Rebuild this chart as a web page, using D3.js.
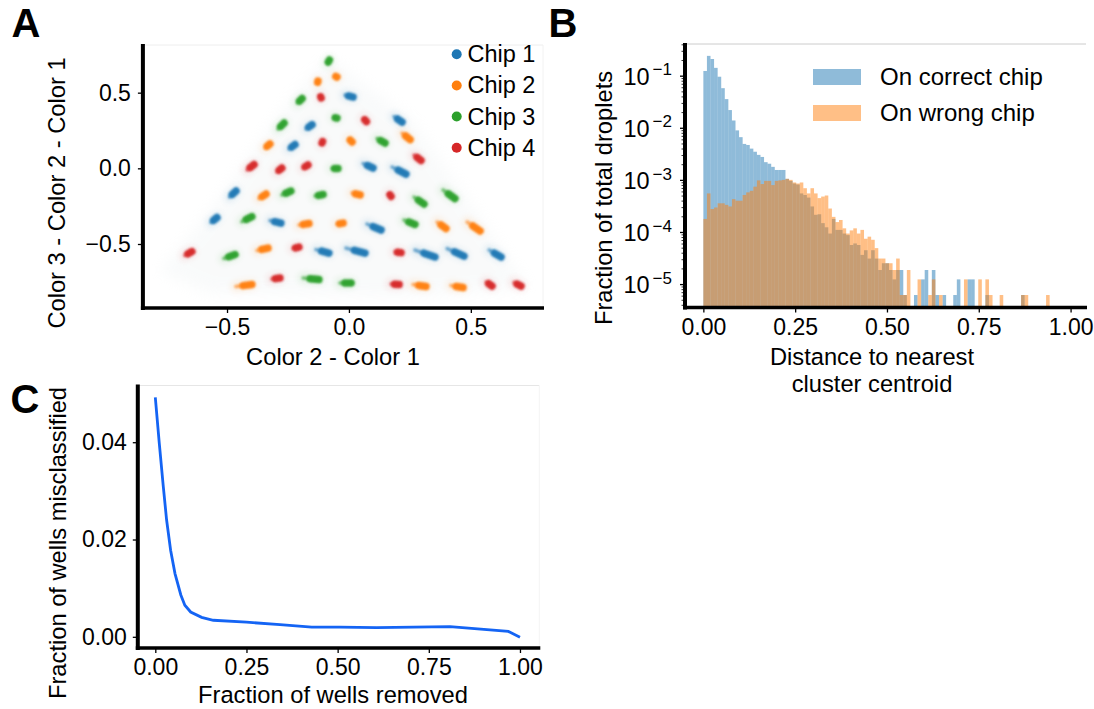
<!DOCTYPE html>
<html>
<head>
<meta charset="utf-8">
<script src="https://cdn.jsdelivr.net/npm/d3@7"></script>
<style>
    html, body { margin: 0; padding: 0; background: #fff; }
    text { font-family: "Liberation Sans", Arial, sans-serif; fill: #000; }
</style>
</head>
<body>
<svg width="1094" height="709"></svg>
<script>
// Panel A: each droplet cluster as tail x, tail y, head x, head y
var chip1Clusters = [
    [-.016, .484, .017, .471], [-.176, .260, -.151, .289], [-.246, .128, -.221, .157],
    [.185, .342, .218, .306], [.058, .032, .099, .002], [.177, .009, .234, -.038],
    [-.490, -.190, -.463, -.150], [-.566, -.358, -.541, -.325], [-.324, -.345, -.279, -.362],
    [.074, -.368, .132, -.408], [-.135, -.537, -.082, -.560], [-.012, -.527, .066, -.560],
    [.271, -.540, .353, -.586], [.403, -.530, .472, -.580], [.575, -.540, .624, -.586]
];
var chip2Clusters = [
    [-.057, .610, -.049, .603], [-.129, .564, -.127, .577], [-.344, .134, -.324, .161],
    [.000, .194, .013, .174], [.218, .233, .251, .190], [-.369, -.200, -.340, -.170],
    [-.205, -.375, -.164, -.365], [-.049, -.368, -.024, -.362], [.013, -.163, .046, -.176],
    [-.377, -.543, -.332, -.527], [-.463, -.781, -.398, -.768], [.362, -.355, .398, -.398],
    [.485, -.355, .538, -.414], [.263, -.768, .316, -.781], [.419, -.775, .468, -.788]
];
var chip3Clusters = [
    [-.088, .693, -.080, .716], [-.211, .432, -.192, .461], [-.291, .260, -.266, .299],
    [-.061, .336, -.049, .332], [.115, .197, .148, .167], [-.069, -.001, -.045, -.001],
    [-.275, -.176, -.238, -.150], [-.139, -.183, -.106, -.173], [.267, -.190, .308, -.236],
    [.386, -.143, .435, -.200], [-.439, -.352, -.398, -.319], [.226, -.342, .271, -.371],
    [-.513, -.596, -.467, -.570], [-.188, -.725, -.123, -.735], [-.037, -.758, .009, -.758]
];
var chip4Clusters = [
    [-.117, .478, -.114, .465], [.060, .329, .072, .309], [.267, .088, .296, .052],
    [-.112, .161, -.108, .177], [-.188, .002, -.168, .022], [-.295, -.024, -.275, .002],
    [-.418, -.011, -.389, .025], [.165, -.167, .173, -.186], [.189, -.553, .214, -.557],
    [-.229, -.530, -.205, -.520], [-.673, -.576, -.644, -.550], [-.316, -.732, -.283, -.725],
    [.173, -.765, .206, -.768], [.563, -.751, .587, -.778], [.677, -.755, .706, -.778]
];
// outline of the faint background cloud of droplets
var cloudOutline = [
    [-.086, .729], [.259, .319], [.517, -.276], [.735, -.791], [.21, -.851],
    [-.57, -.824], [-.775, -.685], [-.549, -.242], [-.242, .451]
];
var chipNames = ["Chip 1", "Chip 2", "Chip 3", "Chip 4"];
var chipColors = ["#1f77b4", "#ff7f0e", "#2ca02c", "#d62728"];

// Panel B: log10 of fraction per histogram bin, null is an empty bin
var histBinCount = 97;
var histMax = 0.943;
var correctChipLog = [
    -.91, -.62, -.68, -.85, -1.02, -1.24, -1.45, -1.66, -1.86, -2.05,
    -2.18, -2.31, -2.33, -2.40, -2.46, -2.52, -2.56, -2.66, -2.69, -2.75,
    -2.81, -2.81, -2.81, -2.98, -3.02, -3.07, -3.09, -3.26, -3.29, -3.34,
    -3.51, -3.67, -3.66, -3.83, -3.91, -4.03, -3.75, -3.96, -3.96, -4.03,
    -4.06, -4.25, -4.22, -4.25, -4.44, -4.35, -4.51, -4.35, -4.51, -4.73,
    -4.60, -4.60, -4.73, -4.91, -4.73, -4.73, -5.21, null, null, -5.21,
    null, -4.91, -4.73, null, -4.73, -5.21, null, -5.21, null, null,
    -5.21, -4.91, null, null, -4.91, -4.91, null, null, null, -5.21,
    null, null, null, null, null, null, null, null, null, -5.21,
    null, null, null, null, null, null, null
];
var wrongChipLog = [
    -3.75, -3.26, -3.56, -3.53, -3.45, -3.45, -3.48, -3.51, -3.37, -3.40,
    -3.40, -3.29, -3.24, -3.21, -3.13, -3.01, -3.08, -3.02, -3.02, -3.10,
    -3.02, -3.01, -3.00, -2.98, -3.00, -3.05, -3.07, -3.05, -3.16, -3.26,
    -3.16, -3.26, -3.35, -3.32, -3.30, -3.55, -3.71, -3.81, -3.77, -3.93,
    -4.03, -3.97, -3.93, -4.03, -3.96, -4.13, -4.09, -4.15, -4.31, -4.51,
    -4.51, -4.60, -4.60, -4.73, -4.51, -5.21, -5.21, -4.73, null, null,
    -4.91, null, null, -5.21, -4.91, null, -5.21, null, null, null,
    null, null, null, -4.91, null, null, null, -4.91, null, -4.91,
    -5.21, null, null, -5.21, null, null, null, null, null, -5.21,
    -5.21, null, null, null, null, null, -5.21
];
var histLegend = ["On correct chip", "On wrong chip"];

// Panel C
var wellsRemoved = [0, .011, .022, .031, .042, .054, .070, .081, .097, .127, .159, .25, .342, .429, .506, .607, .808, .968, 1];
var wellsMisclassified = [.0492, .0397, .0308, .0240, .0178, .0130, .0086, .0065, .0051, .0040, .0034, .0030, .0025, .0020, .0020, .0019, .0021, .0011, -.0001];

function main() {
    var svg = d3.select("svg");
    var defs = svg.append("defs");

    // filters use the whole page as region, thin strokes have almost no bounding box
    function blur(id, amount) {
        defs.append("filter").attr("id", id)
            .attr("filterUnits", "userSpaceOnUse")
            .attr("x", 0).attr("y", 0).attr("width", 1094).attr("height", 709)
            .append("feGaussianBlur").attr("stdDeviation", amount);
    }
    blur("blurCore", 0.8);
    blur("blurTail", 1.3);
    blur("blurHalo", 3);
    blur("blurCloud", 7);

    // thick left/bottom spines and the thin leftover top/right ones
    function frame(left, right, top, bottom, topColor, rightColor) {
        svg.append("line").attr("x1", left).attr("x2", right).attr("y1", top).attr("y2", top)
            .style("stroke", topColor).style("stroke-width", 1);
        if (rightColor) {
            svg.append("line").attr("x1", right).attr("x2", right).attr("y1", top).attr("y2", bottom)
                .style("stroke", rightColor).style("stroke-width", 1);
        }
        svg.append("line").attr("x1", left).attr("x2", left).attr("y1", top - 1).attr("y2", bottom + 2)
            .style("stroke", "black").style("stroke-width", 4);
        svg.append("line").attr("x1", left - 2).attr("x2", right + 1).attr("y1", bottom).attr("y2", bottom)
            .style("stroke", "black").style("stroke-width", 3.5);
    }

    function drawAxis(x, y, axis) {
        var g = svg.append("g")
            .attr("transform", "translate(" + x + "," + y + ")")
            .call(axis);
        g.select(".domain").remove();
        g.selectAll(".tick line").style("stroke", "black").style("stroke-width", 1.3);
        g.selectAll(".tick text").style("font-size", "23px");
        return g;
    }

    function label(x, y, text, rotate, size, weight) {
        svg.append("text")
            .attr("transform", "translate(" + x + "," + y + ")" + (rotate ? " rotate(-90)" : ""))
            .attr("text-anchor", "middle")
            .style("font-size", (size || 23.7) + "px")
            .style("font-weight", weight || "normal")
            .text(text);
    }

    // ---------- Panel A ----------
    var ax = d3.scaleLinear().domain([-.845, .796]).range([142.9, 543]);
    var ay = d3.scaleLinear().domain([-.923, .815]).range([308, 45]);
    var clusterLine = function (d) {
        return "M" + ax(d[0]) + "," + ay(d[1]) + "L" + ax(d[2]) + "," + ay(d[3]);
    };
    // the dense head of a cluster is the end part of its smear
    var clusterHead = function (d) {
        var hx = d[0] + (d[2] - d[0]) * 0.45, hy = d[1] + (d[3] - d[1]) * 0.45;
        return "M" + ax(hx) + "," + ay(hy) + "L" + ax(d[2]) + "," + ay(d[3]);
    };

    svg.append("path")
        .attr("d", d3.line().x(function (d) { return ax(d[0]); }).y(function (d) { return ay(d[1]); }).curve(d3.curveLinearClosed)(cloudOutline))
        .attr("fill", "#dbe4e6")
        .attr("opacity", 0.16)
        .attr("filter", "url(#blurCloud)");

    [chip1Clusters, chip2Clusters, chip3Clusters, chip4Clusters].forEach(function (clusters, i) {
        var g = svg.append("g");
        g.selectAll(".halo").data(clusters).enter().append("path")
            .attr("class", "halo")
            .attr("d", clusterLine)
            .style("stroke", chipColors[i])
            .style("stroke-width", 10)
            .style("stroke-linecap", "round")
            .style("opacity", 0.12)
            .attr("filter", "url(#blurHalo)");
        g.selectAll(".tail").data(clusters).enter().append("path")
            .attr("class", "tail")
            .attr("d", clusterLine)
            .style("stroke", chipColors[i])
            .style("stroke-width", 3.5)
            .style("stroke-linecap", "round")
            .style("opacity", 0.6)
            .attr("filter", "url(#blurTail)");
        g.selectAll(".core").data(clusters).enter().append("path")
            .attr("class", "core")
            .attr("d", clusterHead)
            .style("stroke", chipColors[i])
            .style("stroke-width", 7.5)
            .style("stroke-linecap", "round")
            .style("opacity", 0.92)
            .attr("filter", "url(#blurCore)");
    });

    frame(142.9, 543, 45, 308, "#eeeeee", "#f2f2f2");
    drawAxis(0, 308, d3.axisBottom(ax).tickValues([-.5, 0, .5]).tickSize(5).tickPadding(6).tickFormat(d3.format(".1f")));
    drawAxis(142.9, 0, d3.axisLeft(ay).tickValues([-.5, 0, .5]).tickSize(5).tickPadding(7).tickFormat(d3.format(".1f")));

    var legendRows = d3.scaleLinear().domain([0, 3]).range([54.3, 147.7]);
    chipNames.forEach(function (name, i) {
        svg.append("circle").attr("cx", 456.7).attr("cy", legendRows(i)).attr("r", 5)
            .style("fill", chipColors[i]);
        svg.append("text").attr("x", 467.5).attr("y", legendRows(i) + 8)
            .style("font-size", "23.5px").text(name);
    });

    label(333, 365, "Color 2 - Color 1");
    label(65, 193, "Color 3 - Color 2 - Color 1", true);

    // ---------- Panel B ----------
    var bx = d3.scaleLinear().domain([-.05, 1.042]).range([685, 1086]);
    var by = d3.scaleLog().domain([Math.pow(10, -5.44), Math.pow(10, -.392)]).range([307, 44]);
    var binWidth = histMax / histBinCount;

    function placeHist(values, color) {
        var g = svg.append("g");
        values.forEach(function (v, i) {
            if (v === null) return;
            g.append("rect")
                .attr("x", bx(i * binWidth))
                .attr("width", bx(binWidth) - bx(0))
                .attr("y", by(Math.pow(10, v)))
                .attr("height", 307 - by(Math.pow(10, v)))
                .style("fill", color)
                .style("opacity", 0.5);
        });
    }
    placeHist(correctChipLog, "#1f77b4");
    placeHist(wrongChipLog, "#ff7f0e");

    frame(685, 1086, 44, 307.5, "#cccccc", null);
    drawAxis(0, 307.5, d3.axisBottom(bx).tickValues([0, .25, .5, .75, 1]).tickSize(5).tickPadding(6).tickFormat(d3.format(".2f")));

    var decades = [-5, -4, -3, -2, -1];
    var majorTicks = decades.map(function (e) { return Math.pow(10, e); });
    var minorTicks = by.ticks().filter(function (t) { return majorTicks.every(function (m) { return Math.abs(m - t) / m > 1e-6; }); });
    drawAxis(685, 0, d3.axisLeft(by).tickValues(minorTicks).tickSize(3.5).tickFormat(""))
        .selectAll(".tick line").style("stroke-width", 0.8);
    var logAxis = drawAxis(685, 0, d3.axisLeft(by).tickValues(majorTicks).tickSize(5).tickPadding(8).tickFormat(""));
    logAxis.selectAll(".tick").each(function (d, i) {
        var t = d3.select(this).append("text")
            .attr("x", -13).attr("dy", "0.36em")
            .attr("text-anchor", "end")
            .style("font-size", "23.5px");
        t.append("tspan").text("10");
        t.append("tspan").attr("dx", 3).attr("dy", "-0.55em").style("font-size", "17px").text("\u2212" + (-decades[i]));
    });

    histLegend.forEach(function (name, i) {
        var cy = 77 + i * 36;
        svg.append("rect").attr("x", 813).attr("y", cy - 8).attr("width", 48).attr("height", 16)
            .style("fill", i ? "#ff7f0e" : "#1f77b4").style("opacity", 0.5);
        svg.append("text").attr("x", 880).attr("y", cy + 8)
            .style("font-size", "24px").text(name);
    });

    label(612, 198, "Fraction of total droplets", true);
    label(872, 365, "Distance to nearest");
    label(872, 392, "cluster centroid");

    // ---------- Panel C ----------
    var cx = d3.scaleLinear().domain([-.048, 1.053]).range([137.8, 539.3]);
    var cy = d3.scaleLinear().domain([-.0023, .0517]).range([648, 385.3]);

    svg.append("path")
        .attr("d", d3.line()
            .x(function (d) { return cx(d); })
            .y(function (d, i) { return cy(wellsMisclassified[i]); })(wellsRemoved))
        .attr("fill", "none")
        .style("stroke", "#1464f4")
        .style("stroke-width", 2.8);

    frame(137.8, 539.3, 385.5, 648, "#e6e6e6", "#f4f4f4");
    drawAxis(0, 648, d3.axisBottom(cx).tickValues([0, .25, .5, .75, 1]).tickSize(5).tickPadding(6).tickFormat(d3.format(".2f")));
    drawAxis(137.8, 0, d3.axisLeft(cy).tickValues([0, .02, .04]).tickSize(5).tickPadding(6).tickFormat(d3.format(".2f")));

    label(333, 703, "Fraction of wells removed");
    label(66, 543, "Fraction of wells misclassified", true);

    // panel letters
    label(26, 37, "A", false, 40, "bold");
    label(563, 37, "B", false, 40, "bold");
    label(25, 413, "C", false, 40, "bold");
}
main();
</script>
</body>
</html>
